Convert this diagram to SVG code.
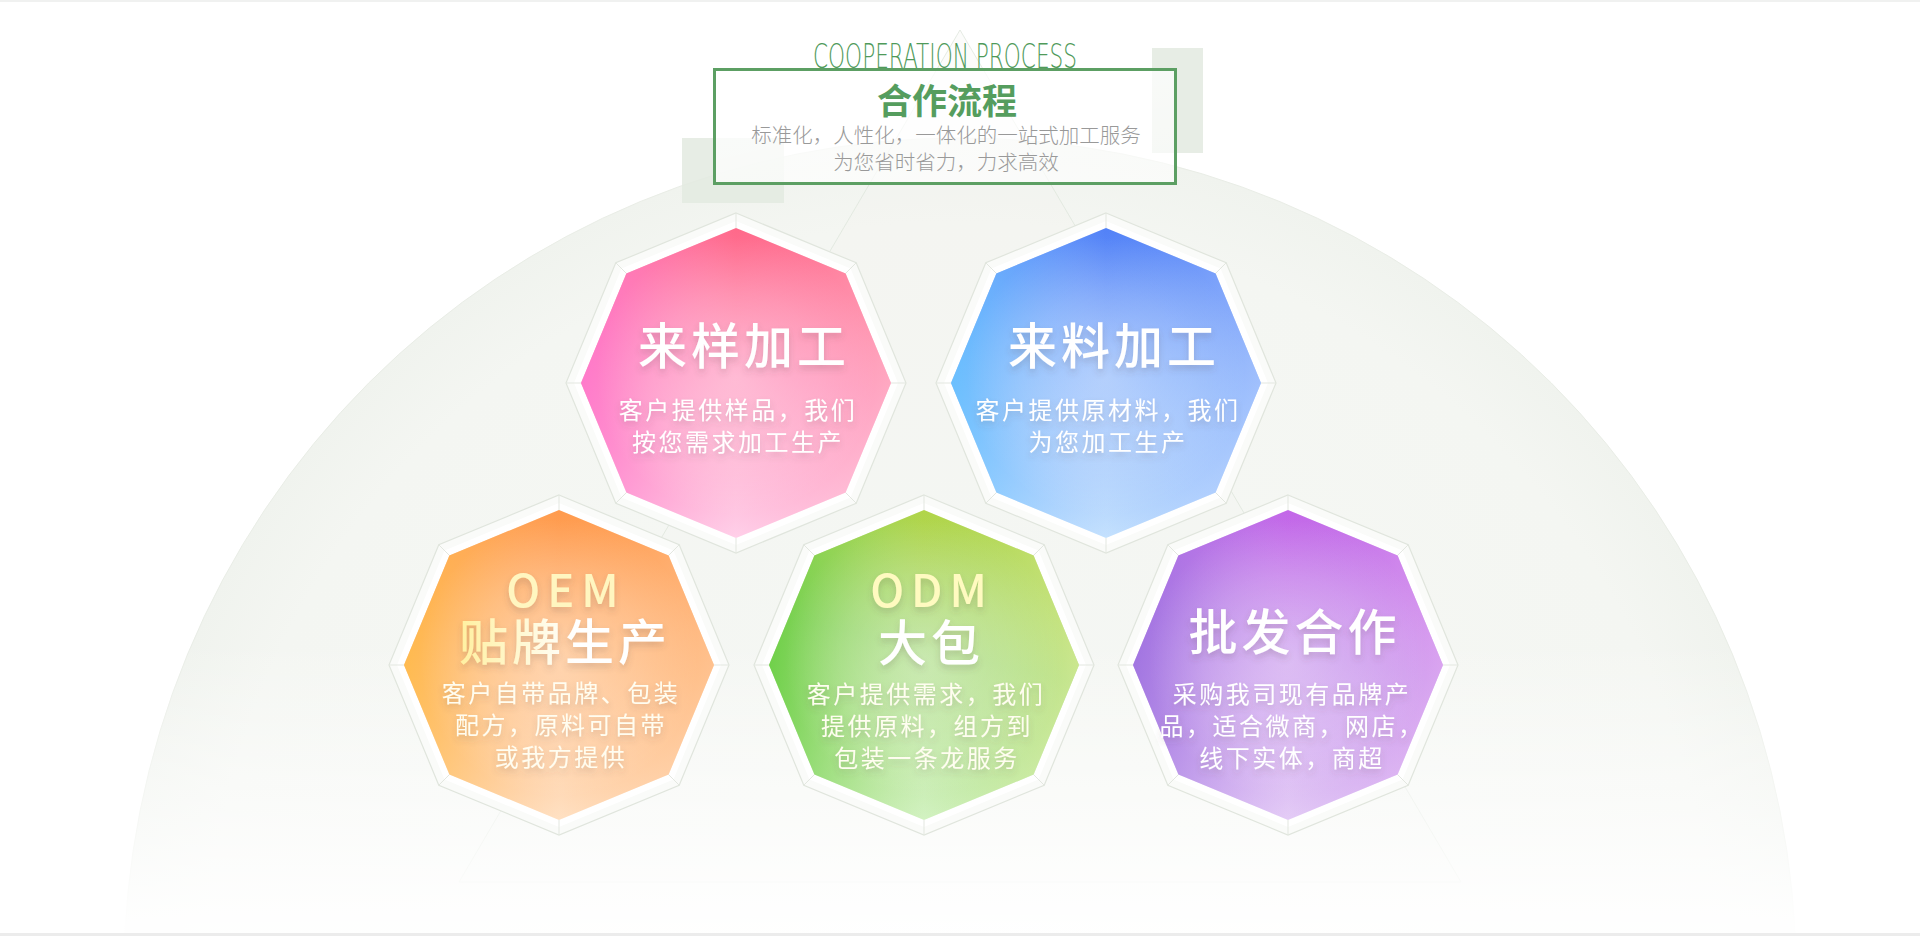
<svg xmlns="http://www.w3.org/2000/svg" xmlns:xlink="http://www.w3.org/1999/xlink" width="1920" height="936" viewBox="0 0 1920 936">
<style>
.cjk{font-family:"Noto Sans CJK SC","Noto Sans",sans-serif;}
.ttl{font-size:49px;letter-spacing:4px;text-anchor:middle;font-weight:500;}
.dsc{font-size:24px;letter-spacing:2.5px;text-anchor:middle;}
.lat{font-size:45px;letter-spacing:7px;text-anchor:middle;font-weight:500;}
.wt{fill:#ffffff;}
.sub{font-size:20.5px;fill:#999999;text-anchor:middle;font-weight:300;}
.bev{fill:none;stroke:#e3e7e0;stroke-width:1;}
</style>
<defs>
<polygon id="octO" points="0,-170 120.2,-120.2 170,0 120.2,120.2 0,170 -120.2,120.2 -170,0 -120.2,-120.2"/>
<polygon id="octB" points="0,-162 114.5,-114.5 162,0 114.5,114.5 0,162 -114.5,114.5 -162,0 -114.5,-114.5"/>
<polygon id="octI" points="0,-155 109.6,-109.6 155,0 109.6,109.6 0,155 -109.6,109.6 -155,0 -109.6,-109.6"/>
<path id="bevL" d="M0,-155V-170M109.6,-109.6L120.2,-120.2M155,0H170M109.6,109.6L120.2,120.2M0,155V170M-109.6,109.6L-120.2,120.2M-155,0H-170M-109.6,-109.6L-120.2,-120.2"/>
<radialGradient id="bgC" cx="960" cy="974" r="836" gradientUnits="userSpaceOnUse">
<stop offset="0" stop-color="#f7f9f6"/>
<stop offset="0.9" stop-color="#f4f6f2"/>
<stop offset="1" stop-color="#f0f3ee"/>
</radialGradient>
<linearGradient id="fade" x1="0" y1="640" x2="0" y2="925" gradientUnits="userSpaceOnUse">
<stop offset="0" stop-color="#ffffff" stop-opacity="0"/>
<stop offset="1" stop-color="#ffffff" stop-opacity="0.95"/>
</linearGradient>
<linearGradient id="boxG" x1="0" y1="0" x2="1" y2="1">
<stop offset="0" stop-color="#ffffff" stop-opacity="0.85"/>
<stop offset="1" stop-color="#ffffff" stop-opacity="0.6"/>
</linearGradient>
<radialGradient id="glow" cx="0.5" cy="0.48" r="0.45">
<stop offset="0" stop-color="#ffffff" stop-opacity="0.38"/>
<stop offset="0.6" stop-color="#ffffff" stop-opacity="0.18"/>
<stop offset="1" stop-color="#ffffff" stop-opacity="0"/>
</radialGradient>
<linearGradient id="pk" x1="0.62" y1="0" x2="0.4" y2="1">
<stop offset="0" stop-color="#ff6280"/>
<stop offset="0.45" stop-color="#ff8cb6"/>
<stop offset="1" stop-color="#ffdaf0"/>
</linearGradient>
<linearGradient id="pkT" x1="0" y1="0" x2="1" y2="0">
<stop offset="0" stop-color="#ff70cc" stop-opacity="0.8"/>
<stop offset="0.5" stop-color="#ff90c0" stop-opacity="0.1"/>
<stop offset="1" stop-color="#ffd2d8" stop-opacity="0.45"/>
</linearGradient>
<linearGradient id="bl" x1="0.62" y1="0" x2="0.4" y2="1">
<stop offset="0" stop-color="#4878f6"/>
<stop offset="0.45" stop-color="#80aefb"/>
<stop offset="1" stop-color="#cde8fe"/>
</linearGradient>
<linearGradient id="blT" x1="0" y1="0" x2="1" y2="0">
<stop offset="0" stop-color="#5cc0ff" stop-opacity="0.75"/>
<stop offset="0.5" stop-color="#90b8ff" stop-opacity="0.1"/>
<stop offset="1" stop-color="#c8d8ff" stop-opacity="0.5"/>
</linearGradient>
<linearGradient id="or" x1="0.62" y1="0" x2="0.4" y2="1">
<stop offset="0" stop-color="#ff9646"/>
<stop offset="0.45" stop-color="#ffb676"/>
<stop offset="1" stop-color="#ffe8d0"/>
</linearGradient>
<linearGradient id="orT" x1="0" y1="0" x2="1" y2="0">
<stop offset="0" stop-color="#ffb83a" stop-opacity="0.75"/>
<stop offset="0.5" stop-color="#ffb070" stop-opacity="0.1"/>
<stop offset="1" stop-color="#ffd4b4" stop-opacity="0.45"/>
</linearGradient>
<linearGradient id="gr" x1="0.62" y1="0" x2="0.4" y2="1">
<stop offset="0" stop-color="#b4d440"/>
<stop offset="0.45" stop-color="#a6da7c"/>
<stop offset="1" stop-color="#daf6ce"/>
</linearGradient>
<linearGradient id="grT" x1="0" y1="0" x2="1" y2="0">
<stop offset="0" stop-color="#5ecc38" stop-opacity="0.8"/>
<stop offset="0.5" stop-color="#a0d870" stop-opacity="0.1"/>
<stop offset="1" stop-color="#e8f2a4" stop-opacity="0.55"/>
</linearGradient>
<linearGradient id="pu" x1="0.62" y1="0" x2="0.4" y2="1">
<stop offset="0" stop-color="#c460e8"/>
<stop offset="0.45" stop-color="#c690ec"/>
<stop offset="1" stop-color="#ead6f8"/>
</linearGradient>
<linearGradient id="puT" x1="0" y1="0" x2="1" y2="0">
<stop offset="0" stop-color="#9266dc" stop-opacity="0.75"/>
<stop offset="0.5" stop-color="#b888e8" stop-opacity="0.1"/>
<stop offset="1" stop-color="#eebef4" stop-opacity="0.5"/>
</linearGradient>
<linearGradient id="ylw" x1="0" y1="0" x2="1" y2="0">
<stop offset="0" stop-color="#fff0a0"/>
<stop offset="0.55" stop-color="#ffffff"/>
</linearGradient>
<filter id="sh" x="-20%" y="-30%" width="140%" height="170%">
<feDropShadow dx="0" dy="4" stdDeviation="3" flood-color="#5a4a50" flood-opacity="0.22"/>
</filter>
</defs>

<!-- background -->
<rect x="0" y="0" width="1920" height="936" fill="#ffffff"/>
<rect x="0" y="0" width="1920" height="2" fill="#f0f1f0"/>
<circle cx="960" cy="974" r="836" fill="url(#bgC)" stroke="#e9ede6" stroke-width="1"/>
<polygon points="960,30 459,882 1461,882" fill="#f2f5f0" fill-opacity="0.25" stroke="#dfe6dc" stroke-opacity="0.8" stroke-width="1"/>
<rect x="0" y="600" width="1920" height="336" fill="url(#fade)"/>
<rect x="0" y="933" width="1920" height="3" fill="#ececec"/>

<!-- header -->
<g id="header">
<rect x="682" y="138" width="102" height="65" fill="#e3eae0" fill-opacity="0.85"/>
<rect x="1152" y="48" width="51" height="105" fill="#e3eae0" fill-opacity="0.85"/>
<text x="813" y="68" textLength="264" lengthAdjust="spacingAndGlyphs" font-family="'DejaVu Sans',sans-serif" font-weight="300" font-size="33" fill="#4f9a5a">COOPERATION PROCESS</text>
<rect x="714.5" y="69.5" width="461" height="114" fill="url(#boxG)" stroke="#5c9f63" stroke-width="3"/>
<text class="cjk" x="947" y="114" font-size="35" font-weight="700" fill="#559d5e" text-anchor="middle">合作流程</text>
<text class="cjk sub" x="946" y="143">标准化，人性化，一体化的一站式加工服务</text>
<text class="cjk sub" x="946" y="170">为您省时省力，力求高效</text>
</g>

<g id="connectors"></g>

<!-- node 1 -->
<g id="node-laiyang" transform="translate(736,383)">
<use xlink:href="#octO" fill="#fafbf9" stroke="#e0e5dd" stroke-width="1.2"/>
<use xlink:href="#octB" fill="#ffffff"/>
<use xlink:href="#bevL" class="bev"/>
<use xlink:href="#octI" fill="url(#pk)"/>
<use xlink:href="#octI" fill="url(#pkT)"/>
<use xlink:href="#octI" fill="url(#glow)"/>
<g class="cjk wt" filter="url(#sh)">
<text class="ttl" x="8" y="-19">来样加工</text>
<text class="dsc" x="2" y="36">客户提供样品，我们</text>
<text class="dsc" x="2" y="68">按您需求加工生产</text>
</g>
</g>

<!-- node 2 -->
<g id="node-lailiao" transform="translate(1106,383)">
<use xlink:href="#octO" fill="#fafbf9" stroke="#e0e5dd" stroke-width="1.2"/>
<use xlink:href="#octB" fill="#ffffff"/>
<use xlink:href="#bevL" class="bev"/>
<use xlink:href="#octI" fill="url(#bl)"/>
<use xlink:href="#octI" fill="url(#blT)"/>
<use xlink:href="#octI" fill="url(#glow)"/>
<g class="cjk wt" filter="url(#sh)">
<text class="ttl" x="8" y="-19">来料加工</text>
<text class="dsc" x="2" y="36">客户提供原材料，我们</text>
<text class="dsc" x="2" y="68">为您加工生产</text>
</g>
</g>

<!-- node 3 -->
<g id="node-oem" transform="translate(559,665)">
<use xlink:href="#octO" fill="#fafbf9" stroke="#e0e5dd" stroke-width="1.2"/>
<use xlink:href="#octB" fill="#ffffff"/>
<use xlink:href="#bevL" class="bev"/>
<use xlink:href="#octI" fill="url(#or)"/>
<use xlink:href="#octI" fill="url(#orT)"/>
<use xlink:href="#octI" fill="url(#glow)"/>
<g class="cjk" filter="url(#sh)">
<text class="lat" x="7" y="-58" fill="#fff6c0">OEM</text>
<text class="ttl" x="6" y="-5" fill="url(#ylw)">贴牌生产</text>
<text class="dsc" x="2" y="37" fill="#fffdf0">客户自带品牌、包装</text>
<text class="dsc" x="2" y="69" fill="#fffdf0">配方，原料可自带</text>
<text class="dsc" x="2" y="101" fill="#fffdf0">或我方提供</text>
</g>
</g>

<!-- node 4 -->
<g id="node-odm" transform="translate(924,665)">
<use xlink:href="#octO" fill="#fafbf9" stroke="#e0e5dd" stroke-width="1.2"/>
<use xlink:href="#octB" fill="#ffffff"/>
<use xlink:href="#bevL" class="bev"/>
<use xlink:href="#octI" fill="url(#gr)"/>
<use xlink:href="#octI" fill="url(#grT)"/>
<use xlink:href="#octI" fill="url(#glow)"/>
<g class="cjk" filter="url(#sh)">
<text class="lat" x="8" y="-58" fill="#fffac0">ODM</text>
<text class="ttl" x="7" y="-4" fill="#ffffff">大包</text>
<text class="dsc" x="2" y="38" fill="#fffdf0">客户提供需求，我们</text>
<text class="dsc" x="3" y="70" fill="#fffdf0">提供原料，组方到</text>
<text class="dsc" x="3" y="102" fill="#fffdf0">包装一条龙服务</text>
</g>
</g>

<!-- node 5 -->
<g id="node-pifa" transform="translate(1288,665)">
<use xlink:href="#octO" fill="#fafbf9" stroke="#e0e5dd" stroke-width="1.2"/>
<use xlink:href="#octB" fill="#ffffff"/>
<use xlink:href="#bevL" class="bev"/>
<use xlink:href="#octI" fill="url(#pu)"/>
<use xlink:href="#octI" fill="url(#puT)"/>
<use xlink:href="#octI" fill="url(#glow)"/>
<g class="cjk wt" filter="url(#sh)">
<text class="ttl" x="6.5" y="-15">批发合作</text>
<text class="dsc" x="4" y="38">采购我司现有品牌产</text>
<text class="dsc" x="4" y="70">品，适合微商，网店，</text>
<text class="dsc" x="4" y="102">线下实体，商超</text>
</g>
</g>
</svg>
